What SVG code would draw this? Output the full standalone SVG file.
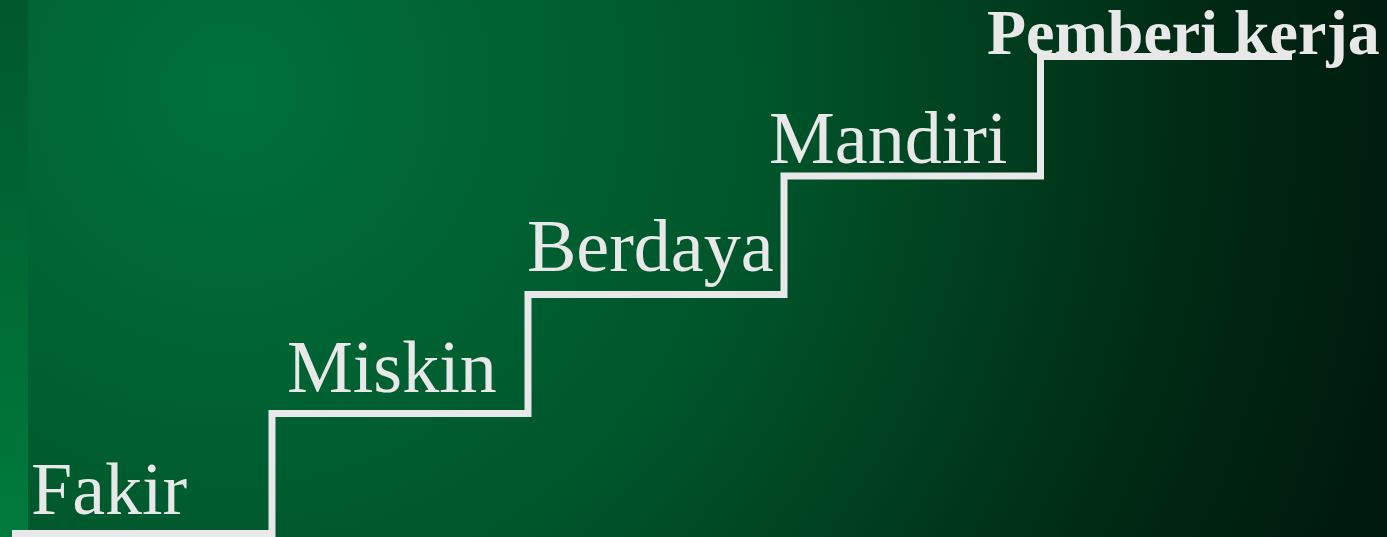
<svg xmlns="http://www.w3.org/2000/svg" width="1387" height="537" viewBox="0 0 1387 537">
  <defs>
    <radialGradient id="bg" gradientUnits="userSpaceOnUse" cx="230" cy="90" r="1200">
      <stop offset="0" stop-color="#00713a"/>
      <stop offset="0.45" stop-color="#00552b"/>
      <stop offset="0.8" stop-color="#002b15"/>
      <stop offset="1" stop-color="#001a0d"/>
    </radialGradient>
    <linearGradient id="strip" x1="0" y1="0" x2="0" y2="1">
      <stop offset="0" stop-color="#00582c"/>
      <stop offset="1" stop-color="#007b3d"/>
    </linearGradient>
    <style>
      .lbl { font-family: "Liberation Serif", "Times New Roman", serif; fill: #e8e8e8; font-size: 74px; }
      .bold { font-weight: bold; font-size: 64px; }
      .stair { fill: none; stroke: #e8e8e8; stroke-width: 7; stroke-linejoin: miter; stroke-linecap: butt; }
    </style>
  </defs>
  <rect x="0" y="0" width="1387" height="537" fill="url(#bg)"/>
  <rect x="0" y="0" width="28" height="537" fill="url(#strip)"/>
  <g id="connectors">
    <path class="stair" d="M12,533.5 H272 V413.5 H528 V294.5 H784 V176 H1040.5 V56.5 H1292"/>
  </g>
  <g id="fakir"><text class="lbl" x="31" y="514">Fakir</text></g>
  <g id="miskin"><text class="lbl" x="287" y="392">Miskin</text></g>
  <g id="berdaya"><text class="lbl" x="527" y="271">Berdaya</text></g>
  <g id="mandiri"><text class="lbl" x="769" y="163">Mandiri</text></g>
  <g id="pemberi-kerja"><text class="lbl bold" x="987" y="54">Pemberi kerja</text></g>
</svg>
